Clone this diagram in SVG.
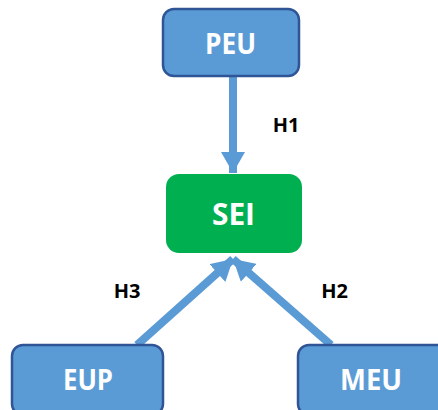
<svg xmlns="http://www.w3.org/2000/svg" width="438" height="410" viewBox="0 0 438 410">
<defs>
<style>
.blue{fill:#5B9BD5;stroke:#2F5597;stroke-width:2.5}
.lbl{font-family:"Open Sans","Liberation Sans",sans-serif;font-weight:bold;fill:#fff;text-anchor:middle}
.h{font-family:"Open Sans","Liberation Sans",sans-serif;font-weight:bold;font-size:20px;fill:#000;text-anchor:middle}
.c{stroke:#5B9BD5;stroke-width:8;fill:none}
</style>
<marker id="ah" markerUnits="userSpaceOnUse" markerWidth="24" markerHeight="24" viewBox="0 0 24 24" refX="21" refY="12" orient="auto">
<path d="M0,0 L21,12 L0,24 Z" fill="#5B9BD5"/>
</marker>
</defs>
<g id="connectors">
<line class="c" x1="233" y1="77" x2="233" y2="173" marker-end="url(#ah)"/>
<line class="c" x1="137" y1="345" x2="233" y2="259" marker-end="url(#ah)"/>
<line class="c" x1="331" y1="345" x2="233" y2="259" marker-end="url(#ah)"/>
</g>
<g id="PEU">
<rect class="blue" x="163" y="9" width="136" height="67" rx="11"/>
<text class="lbl" x="230.5" y="54" font-size="29" textLength="51" lengthAdjust="spacingAndGlyphs">PEU</text>
</g>
<g id="SEI">
<rect x="166" y="174" width="136" height="79" rx="13" fill="#00B050"/>
<text class="lbl" x="233.5" y="225" font-size="30" textLength="43" lengthAdjust="spacingAndGlyphs">SEI</text>
</g>
<g id="EUP">
<rect class="blue" x="12" y="345" width="151" height="70" rx="11"/>
<text class="lbl" x="88" y="389.5" font-size="29" textLength="50" lengthAdjust="spacingAndGlyphs">EUP</text>
</g>
<g id="MEU">
<rect class="blue" x="298" y="345" width="150" height="70" rx="11"/>
<text class="lbl" x="371" y="389.5" font-size="29" textLength="62" lengthAdjust="spacingAndGlyphs">MEU</text>
</g>
<g id="labels">
<text class="h" x="286" y="132">H1</text>
<text class="h" x="127" y="298">H3</text>
<text class="h" x="334.5" y="298">H2</text>
</g>
</svg>
